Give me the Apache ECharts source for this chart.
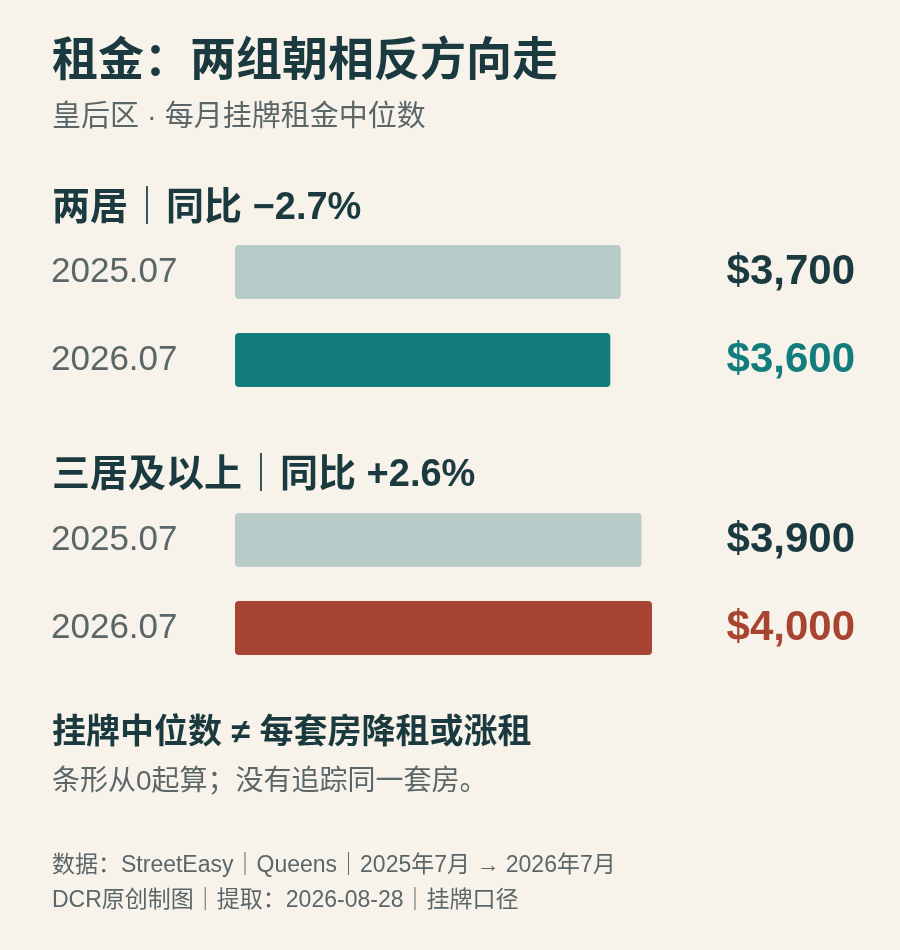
<!DOCTYPE html>
<html>
<head>
<meta charset="utf-8">
<script src="https://cdn.jsdelivr.net/npm/echarts@6/dist/echarts.min.js"></script>
<style>body{margin:0;background:#f7f3ea}</style>
</head>
<body>
<div id="main" style="width:900px;height:950px;"></div>
<script>
var periods = ['2025.07', '2026.07'];
var twoBed = [3700, 3600];
var threeBed = [3900, 4000];
var sections = ['两居｜同比 −2.7%', '三居及以上｜同比 +2.6%'];

var font = '"Liberation Sans", "Noto Sans CJK SC", sans-serif';
var dark = '#1b3a40', grey = '#5b6669', pale = '#b9cbc8';
var teal = '#137c7c', red = '#a84532';

function money(v) { return '$' + v.toLocaleString('en-US'); }

function yAxes(gi, vals, accent) {
  return [{
    type: 'category', gridIndex: gi, data: periods, inverse: true,
    axisLine: { show: false }, axisTick: { show: false },
    axisLabel: { align: 'left', margin: 184, color: grey, fontSize: 35, fontFamily: font }
  }, {
    type: 'category', gridIndex: gi, data: vals.map(money), inverse: true, position: 'right',
    axisLine: { show: false }, axisTick: { show: false },
    axisLabel: {
      align: 'right', margin: 203, fontSize: 42, fontWeight: 'bold', fontFamily: font,
      formatter: function (v, i) { return i === 0 ? '{a|' + v + '}' : '{b|' + v + '}'; },
      rich: {
        a: { color: dark, fontSize: 42, fontWeight: 'bold', fontFamily: font },
        b: { color: accent, fontSize: 42, fontWeight: 'bold', fontFamily: font }
      }
    }
  }];
}

function bars(gi, vals, accent) {
  return {
    type: 'bar', xAxisIndex: gi, yAxisIndex: gi * 2, barWidth: 54,
    data: vals.map(function (v, i) {
      return { value: v, itemStyle: { color: i === 0 ? pale : accent, borderRadius: 4 } };
    })
  };
}

function txt(t, top, size, bold, color) {
  return { text: t, left: 47, top: top, textStyle: { fontSize: size, fontWeight: bold ? 'bold' : 'normal', color: color, fontFamily: font } };
}

var chart = echarts.init(document.getElementById('main'));
chart.setOption({
  backgroundColor: '#f7f3ea',
  animation: false,
  title: [
    txt('租金：两组朝相反方向走', 34, 46, true, dark),
    txt('皇后区 · 每月挂牌租金中位数', 98, 29, false, grey),
    txt(sections[0], 185, 38, true, dark),
    txt(sections[1], 452, 38, true, dark),
    txt('挂牌中位数 ≠ 每套房降租或涨租', 712, 34, true, dark),
    txt('条形从0起算；没有追踪同一套房。', 763, 28, false, grey),
    txt('数据：StreetEasy｜Queens｜2025年7月 → 2026年7月', 849, 23, false, grey),
    txt('DCR原创制图｜提取：2026-08-28｜挂牌口径', 884, 23, false, grey)
  ],
  grid: [
    { left: 235, width: 417, top: 228, height: 176 },
    { left: 235, width: 417, top: 496, height: 176 }
  ],
  xAxis: [0, 1].map(function (gi) {
    return { type: 'value', gridIndex: gi, min: 0, max: 4000, show: false };
  }),
  yAxis: yAxes(0, twoBed, teal).concat(yAxes(1, threeBed, red)),
  series: [bars(0, twoBed, teal), bars(1, threeBed, red)]
});
</script>
</body>
</html>
